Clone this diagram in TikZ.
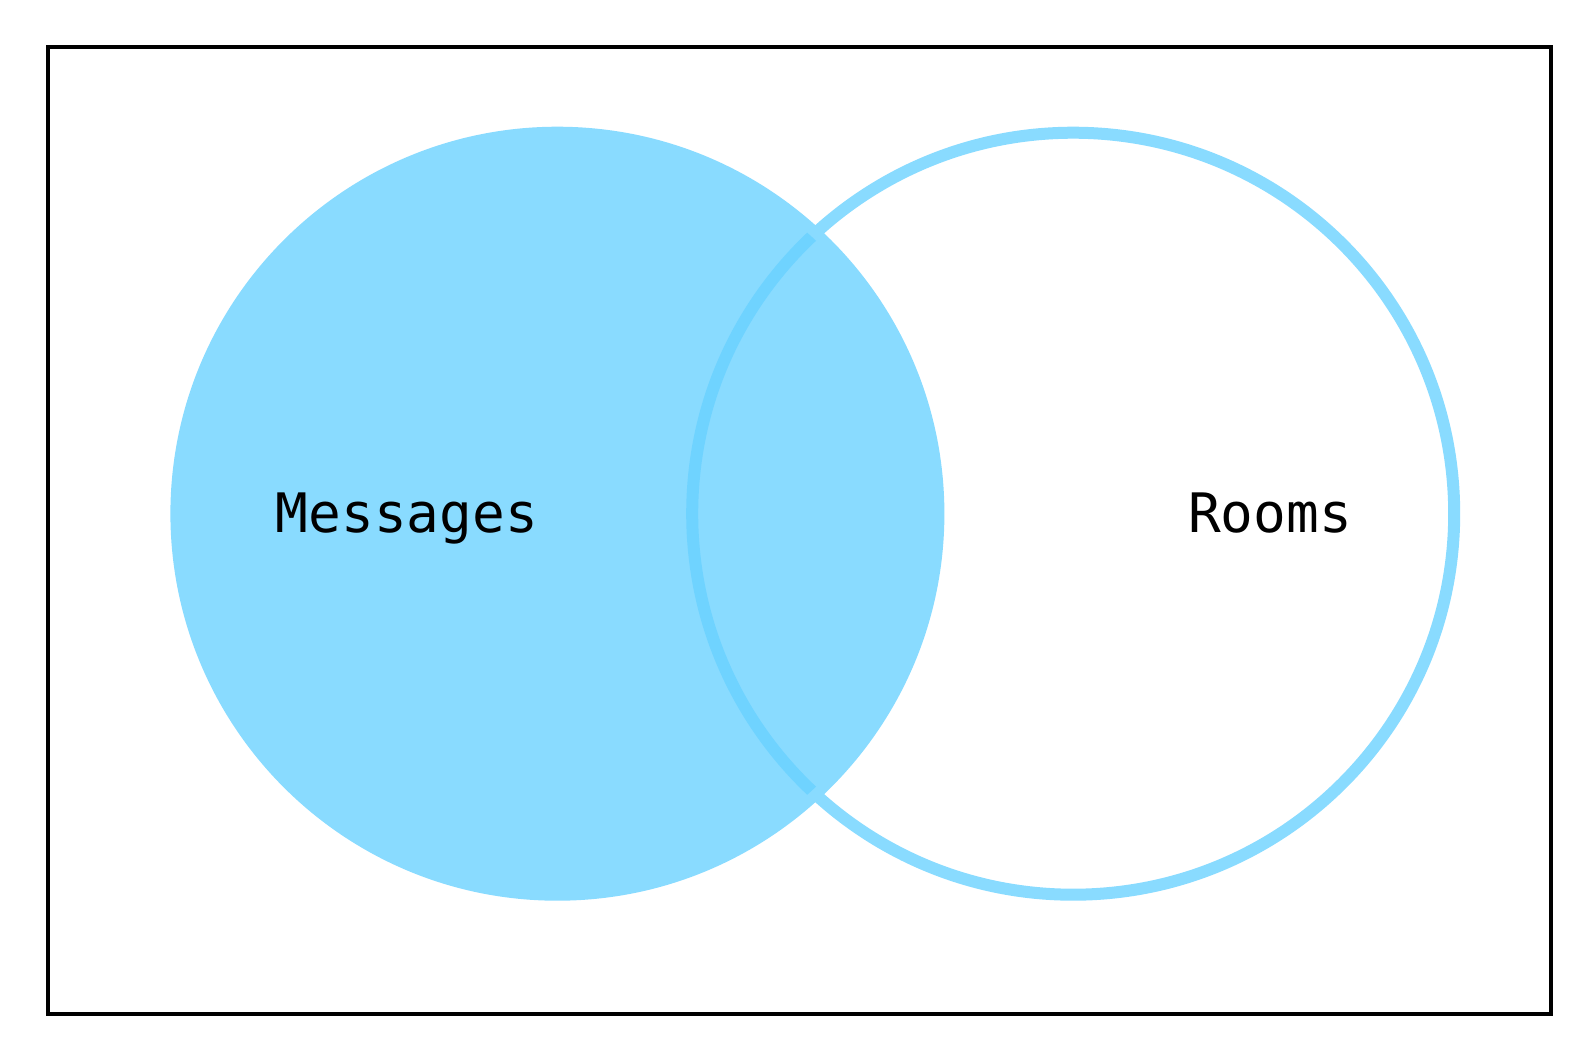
\documentclass[tikz,border=0pt]{standalone}
\usepackage{fontspec}
\newfontfamily\monofont{DejaVu Sans Mono}
\definecolor{setfill}{RGB}{137,219,255}
\definecolor{setdark}{RGB}{111,211,255}
\begin{document}
\begin{tikzpicture}[x=1pt,y=-1pt,
  frame/.style={draw=black,line width=3.5pt},
  ring/.style={line width=12pt},
  lbl/.style={font=\monofont\fontsize{54.4}{60}\selectfont,text=black,inner sep=0pt,anchor=base}]
\useasboundingbox (0,0) rectangle (1595,1058);
\fill[white] (0,0) rectangle (1595,1058);
\draw[frame] (48,47) rectangle (1551,1014);
\fill[setfill] (557.4,513.7) circle[radius=387];
\draw[setfill,ring] (1073.2,513.7) circle[radius=381];
\begin{scope}
  \clip (557.4,513.7) circle[radius=376];
  \draw[setdark,ring] (1073.2,513.7) circle[radius=381];
\end{scope}
\node[lbl] (msg) at (407,532) {Messages};
\node[lbl] (rooms) at (1270,532) {Rooms};
\end{tikzpicture}
\end{document}
